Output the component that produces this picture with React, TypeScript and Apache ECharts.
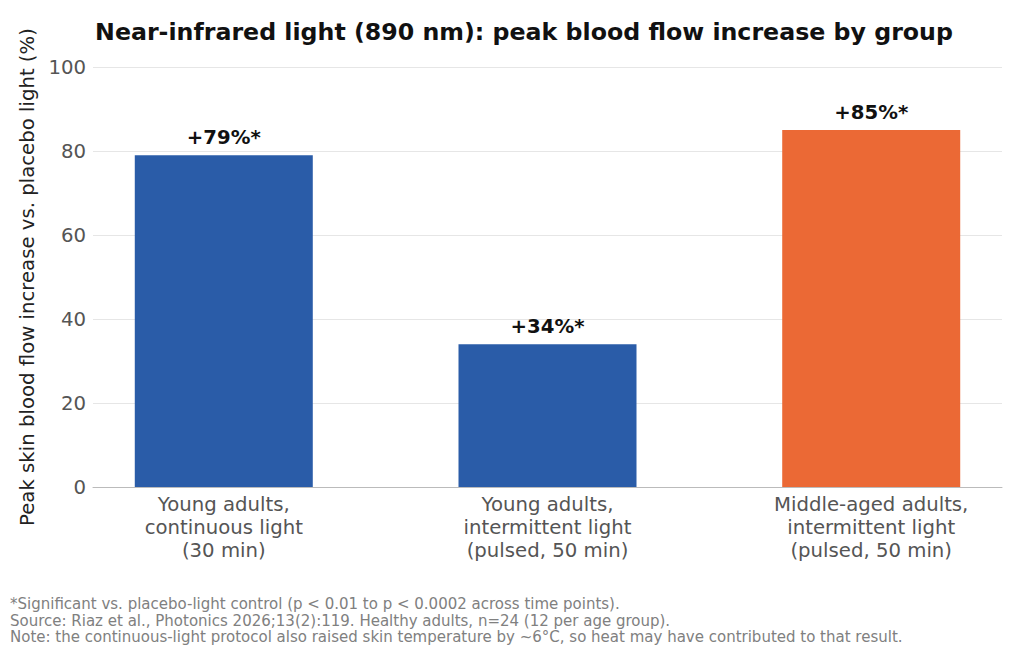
import React, { useEffect, useRef } from "react";
import * as echarts from "echarts";

const categories = [
  "Young adults,\ncontinuous light\n(30 min)",
  "Young adults,\nintermittent light\n(pulsed, 50 min)",
  "Middle-aged adults,\nintermittent light\n(pulsed, 50 min)",
];
const values = [79, 34, 85];
const barLabels = ["+79%*", "+34%*", "+85%*"];
const barColors = ["#2a5ca8", "#2a5ca8", "#eb6935"];
const yTicks = [0, 20, 40, 60, 80, 100];
const titleText = "Near-infrared light (890 nm): peak blood flow increase by group";
const yAxisName = "Peak skin blood flow increase vs. placebo light (%)";
const footnotes = [
  "*Significant vs. placebo-light control (p < 0.01 to p < 0.0002 across time points).",
  "Source: Riaz et al., Photonics 2026;13(2):119. Healthy adults, n=24 (12 per age group).",
  "Note: the continuous-light protocol also raised skin temperature by ~6°C, so heat may have contributed to that result.",
];

const FONT = "DejaVu Sans";

export default function App() {
  const ref = useRef<HTMLDivElement>(null);
  useEffect(() => {
    if (!ref.current) return;
    const chart = echarts.init(ref.current, undefined, { renderer: "svg" });
    chart.setOption({
      animation: false,
      backgroundColor: "#ffffff",
      textStyle: { fontFamily: FONT },
      grid: { left: 93, right: 22, top: 67, bottom: 167, containLabel: false },
      xAxis: {
        type: "value",
        min: -0.404,
        max: 2.404,
        splitLine: { show: false },
        axisTick: { show: false },
        axisLine: { show: true, lineStyle: { color: "#bbbbbb", width: 1 } },
        axisLabel: {
          customValues: [0, 1, 2],
          formatter: (v: number) => categories[Math.round(v)] ?? "",
          color: "#555555",
          fontSize: 19.7,
          lineHeight: 23,
          margin: 6,
          fontFamily: FONT,
        },
      },
      yAxis: {
        type: "value",
        min: yTicks[0],
        max: yTicks[yTicks.length - 1],
        interval: 20,
        name: yAxisName,
        nameLocation: "middle",
        nameGap: 51,
        nameTextStyle: { color: "#222222", fontSize: 19.7, fontFamily: FONT },
        axisLine: { show: false },
        axisTick: { show: false },
        axisLabel: { color: "#555555", fontSize: 19.7, margin: 7, fontFamily: FONT },
        splitLine: { show: true, lineStyle: { color: "#e6e6e6", width: 1 } },
      },
      series: [
        {
          type: "bar",
          barWidth: 178,
          data: values.map((v, i) => ({
            value: [i, v],
            itemStyle: { color: barColors[i] },
            label: {
              show: true,
              position: "top",
              distance: 8,
              formatter: barLabels[i],
              color: "#111111",
              fontWeight: "bold",
              fontSize: 19.7,
              fontFamily: FONT,
            },
          })),
        },
      ],
      graphic: [
        {
          type: "text",
          x: 524,
          y: 32,
          style: {
            text: titleText,
            fill: "#111111",
            font: `bold 23.7px "${FONT}"`,
            align: "center",
            verticalAlign: "middle",
          },
        },
        {
          type: "text",
          x: 10,
          y: 596,
          style: {
            text: footnotes.join("\n"),
            fill: "#808080",
            font: `15px "${FONT}"`,
            lineHeight: 16.5,
            align: "left",
            verticalAlign: "top",
          },
        },
      ],
    });
    return () => chart.dispose();
  }, []);
  return (
    <div
      ref={ref}
      style={{ position: "fixed", left: 0, top: 0, width: 1024, height: 654 }}
    />
  );
}
